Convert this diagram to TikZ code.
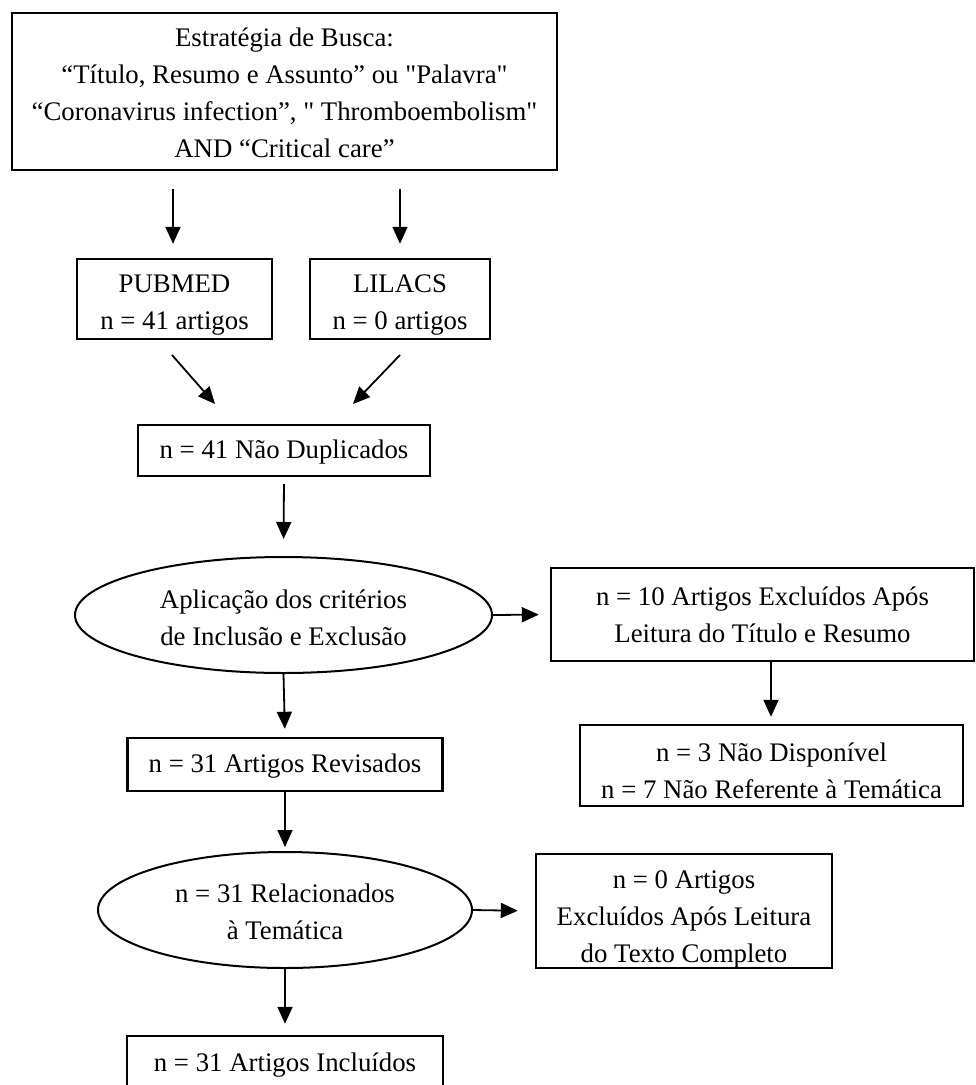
\documentclass[tikz,border=0pt]{standalone}
\usepackage{fontspec}
\setmainfont{Liberation Serif}[Ligatures=TeXOff]
\usetikzlibrary{arrows.meta,shapes.geometric}
\newcommand\myfs{\fontsize{26.8}{37}\selectfont}
\begin{document}
\begin{tikzpicture}[x=1pt,y=-1pt,
  box/.style={draw, line width=2.4pt, rectangle, inner sep=0pt},
  ell/.style={draw, line width=2pt, ellipse, inner sep=0pt},
  txt/.style={align=center, inner sep=0pt, font=\myfs},
  arr/.style={line width=1.8pt, -{Triangle[length=17pt,width=15pt]}}]
\fill[white] (0,0) rectangle (976,1085);
\useasboundingbox (0,0) rectangle (976,1085);

% boxes
\node[box, minimum width=545, minimum height=157] (top) at (284.5,91.5) {};
\node[txt] (toptxt) at (284.5,93) {Estratégia de Busca:\\“Título, Resumo e Assunto” ou "Palavra"\\“Coronavirus infection”, " Thromboembolism"\\AND “Critical care”};

\node[box, minimum width=195, minimum height=80] (pub) at (174.5,299) {};
\node[txt] (pubtxt) at (174.5,305) {PUBMED\\n = 41 artigos};

\node[box, minimum width=180, minimum height=80] (lil) at (400,299) {};
\node[txt] (liltxt) at (400,305) {LILACS\\n = 0 artigos};

\node[box, minimum width=292, minimum height=51] (dup) at (284,450.5) {};
\node[txt] (duptxt) at (284,452) {n = 41 Não Duplicados};

\node[ell, minimum width=417, minimum height=116] (ell1) at (283.5,615) {};
\node[txt] (ell1txt) at (283.5,618) {Aplicação dos critérios\\de Inclusão e Exclusão};

\node[box, minimum width=423, minimum height=93] (exc1) at (762.5,614.5) {};
\node[txt] (exc1txt) at (762.5,615) {n = 10 Artigos Excluídos Após\\Leitura do Título e Resumo};

\node[box, minimum width=383, minimum height=81] (nd) at (771.5,765.5) {};
\node[txt] (ndtxt) at (771.5,771) {n = 3 Não Disponível\\n = 7 Não Referente à Temática};

\node[box, minimum width=315, minimum height=53] (rev) at (285,764.5) {};
\node[txt] (revtxt) at (285,766) {n = 31 Artigos Revisados};

\node[ell, minimum width=374, minimum height=116] (ell2) at (285,910) {};
\node[txt] (ell2txt) at (285,912) {n = 31 Relacionados\\à Temática};

\node[box, minimum width=296, minimum height=114] (nz) at (684,911) {};
\node[txt] (nztxt) at (684,919) {n = 0 Artigos\\Excluídos Após Leitura\\do Texto Completo};

\node[box, minimum width=316, minimum height=64] (fin) at (285,1068) {};
\node[txt] (fintxt) at (285,1065) {n = 31 Artigos Incluídos};

% arrow anchors
\coordinate (c1) at (173,0);
\coordinate (c2) at (400,0);
\coordinate (d1s) at (172,355);
\coordinate (d1e) at (215,404);
\coordinate (d2s) at (400,355);
\coordinate (d2e) at (353,404);
\coordinate (c3) at (771,0);

% connectors
\draw[arr, shorten <=18pt, shorten >=14pt] (c1 |- top.south) -- (c1 |- pub.north);
\draw[arr, shorten <=18pt, shorten >=14pt] (c2 |- top.south) -- (c2 |- lil.north);
\draw[arr] (d1s) -- (d1e);
\draw[arr] (d2s) -- (d2e);
\draw[arr, shorten <=7pt, shorten >=17pt] (dup.south) -- (ell1.north);
\draw[arr, shorten >=11pt] (ell1.east) -- (exc1.west);
\draw[arr, shorten >=7pt] (c3 |- exc1.south) -- (c3 |- nd.north);
\draw[arr, shorten >=8pt] (ell1.south) -- (rev.north);
\draw[arr, shorten >=4pt] (rev.south) -- (ell2.north);
\draw[arr, shorten >=17pt] (ell2.east) -- (nz.west);
\draw[arr, shorten >=11pt] (ell2.south) -- (fin.north);
\end{tikzpicture}
\end{document}
